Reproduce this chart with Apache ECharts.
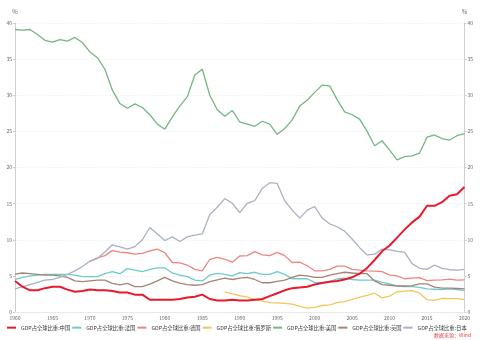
<!DOCTYPE html>
<html>
<head>
<meta charset="utf-8">
<script src="https://cdn.jsdelivr.net/npm/echarts@6/dist/echarts.min.js"></script>
<style>
  html, body { margin: 0; padding: 0; background: #fff; }
  #chart { width: 480px; height: 340px; }
</style>
</head>
<body>
<div id="chart"></div>
<script>
// Years on the category axis
const years = [];
for (let y = 1960; y <= 2020; y++) years.push(String(y));

const seriesNames = [
  'GDP占全球比重:中国', 'GDP占全球比重:法国', 'GDP占全球比重:德国',
  'GDP占全球比重:俄罗斯', 'GDP占全球比重:美国', 'GDP占全球比重:英国',
  'GDP占全球比重:日本'
];

// Share of world GDP, % (1960–2020)
const china = [4.3, 3.5, 3.0, 3.0, 3.3, 3.5, 3.5, 3.1, 2.8, 2.9,
  3.1, 3.0, 3.0, 2.9, 2.7, 2.7, 2.4, 2.4, 1.7, 1.7,
  1.7, 1.7, 1.8, 2.0, 2.1, 2.4, 1.8, 1.6, 1.6, 1.7,
  1.6, 1.6, 1.7, 1.8, 2.2, 2.6, 3.0, 3.3, 3.4, 3.5,
  3.8, 4.0, 4.2, 4.3, 4.5, 4.8, 5.3, 6.1, 7.2, 8.4,
  9.2, 10.3, 11.4, 12.4, 13.2, 14.7, 14.7, 15.2, 16.1, 16.3,
  17.3];

const france = [4.5, 4.8, 5.0, 5.1, 5.2, 5.2, 5.2, 5.2, 5.1, 4.9,
  4.9, 4.9, 5.3, 5.6, 5.3, 6.0, 5.8, 5.6, 5.9, 6.1,
  6.1, 5.4, 5.1, 4.9, 4.4, 4.3, 5.1, 5.35, 5.2, 5.0,
  5.45, 5.3, 5.5, 5.2, 5.2, 5.6, 5.2, 4.6, 4.6, 4.6,
  4.1, 4.05, 4.2, 4.6, 4.7, 4.5, 4.4, 4.4, 4.4, 4.1,
  3.9, 3.6, 3.5, 3.5, 3.4, 3.2, 3.15, 3.1, 3.2, 3.1,
  3.0];

const germany = [null, null, null, null, null, null, null, null, null, null,
  7.0, 7.5, 7.8, 8.5, 8.3, 8.2, 8.0, 8.1, 8.45, 8.7,
  8.2, 6.85, 6.8, 6.5, 5.9, 5.7, 7.3, 7.55, 7.3, 6.9,
  7.75, 7.8, 8.35, 7.9, 7.8, 8.25, 7.8, 6.85, 6.9, 6.4,
  5.7, 5.7, 5.9, 6.35, 6.35, 5.9, 5.8, 5.7, 5.65, 5.6,
  5.1, 5.0, 4.6, 4.7, 4.75, 4.35, 4.4, 4.45, 4.55, 4.4,
  4.45];

const russia = [null, null, null, null, null, null, null, null, null, null,
  null, null, null, null, null, null, null, null, null, null,
  null, null, null, null, null, null, null, null, 2.8, 2.5,
  2.25, 2.1, 1.7, 1.55, 1.3, 1.25, 1.2, 1.1, 0.8, 0.55,
  0.65, 0.9, 1.0, 1.3, 1.45, 1.75, 2.05, 2.3, 2.6, 1.95,
  2.2, 2.8, 2.9, 2.95, 2.6, 1.7, 1.6, 1.9, 1.85, 1.85,
  1.7];

const usa = [39.1, 39.0, 39.1, 38.4, 37.6, 37.35, 37.7, 37.5, 38.0, 37.3,
  36.0, 35.2, 33.6, 30.7, 28.85, 28.2, 28.8, 28.3, 27.3, 26.0,
  25.3, 27.0, 28.5, 29.8, 32.8, 33.6, 30.0, 28.0, 27.1, 27.9,
  26.3, 26.0, 25.7, 26.4, 26.0, 24.6, 25.4, 26.6, 28.5, 29.3,
  30.4, 31.4, 31.3, 29.4, 27.7, 27.3, 26.7, 25.0, 23.0, 23.7,
  22.4, 21.05, 21.5, 21.6, 22.0, 24.2, 24.5, 24.0, 23.8, 24.4,
  24.7];

const uk = [5.25, 5.4, 5.3, 5.2, 5.1, 5.1, 5.0, 4.8, 4.3, 4.2,
  4.3, 4.4, 4.4, 3.95, 3.75, 3.95, 3.5, 3.5, 3.85, 4.3,
  4.8, 4.3, 4.0, 3.8, 3.7, 3.8, 4.2, 4.45, 4.7, 4.5,
  4.7, 4.8, 4.5, 4.05, 4.05, 4.25, 4.4, 4.8, 5.1, 5.0,
  4.8, 4.8, 5.1, 5.3, 5.5, 5.4, 5.3, 5.3, 4.3, 3.8,
  3.7, 3.6, 3.6, 3.65, 3.9, 3.9, 3.45, 3.3, 3.3, 3.25,
  3.2];

const japan = [3.2, 3.5, 3.8, 4.1, 4.4, 4.5, 4.8, 5.2, 5.7, 6.3,
  7.05, 7.4, 8.3, 9.3, 9.0, 8.7, 9.05, 10.0, 11.7, 10.8,
  9.9, 10.4, 9.75, 10.4, 10.65, 10.8, 13.5, 14.5, 15.7, 15.05,
  13.75, 15.05, 15.4, 17.1, 17.9, 17.8, 15.4, 14.1, 13.0, 14.1,
  14.6, 13.0, 12.2, 11.8, 11.2, 10.1, 8.9, 7.9, 8.0, 8.7,
  8.6, 8.4, 8.3, 6.7, 6.05, 5.9, 6.5, 6.05, 5.85, 5.8,
  5.9];

const colors = ['#e8192c', '#6ccccc', '#f08482', '#f2c75e', '#74b783', '#a58573', '#a9b1c3'];
const values = [china, france, germany, russia, usa, uk, japan];

const yTicks = { min: 0, max: 40, interval: 5 };
const labelColor = '#666';
const fontFamily = '"Noto Sans CJK SC", "Noto Sans", sans-serif';

function valueAxis(position) {
  return {
    type: 'value',
    position: position,
    min: yTicks.min, max: yTicks.max, interval: yTicks.interval,
    name: '%',
    nameLocation: 'end',
    nameGap: 8,
    nameTextStyle: { color: labelColor, fontSize: 6, fontFamily: fontFamily,
      align: 'center' },
    axisLine: { show: true, lineStyle: { color: '#cfcfcf', width: 1 } },
    axisTick: { show: true, length: 2, lineStyle: { color: '#cfcfcf' } },
    axisLabel: { color: labelColor, fontSize: 5, margin: 3, fontFamily: fontFamily },
    splitLine: position === 'left'
      ? { show: true, lineStyle: { color: '#ececec', type: 'dashed', width: 0.6 } }
      : { show: false }
  };
}

const chart = echarts.init(document.getElementById('chart'), null, { renderer: 'canvas' });

chart.setOption({
  backgroundColor: '#ffffff',
  animation: false,
  color: colors,
  grid: { left: 15, right: 15.5, top: 23, bottom: 28, containLabel: false },
  xAxis: {
    type: 'category',
    data: years,
    boundaryGap: false,
    axisLine: { show: true, lineStyle: { color: '#e4e4e4', width: 0.8 } },
    axisTick: { show: false },
    axisLabel: { color: labelColor, fontSize: 5, margin: 4, interval: 4,
      fontFamily: fontFamily },
    splitLine: { show: false }
  },
  yAxis: [valueAxis('left'), valueAxis('right')],
  legend: {
    top: 325,
    left: 7,
    width: 470,
    padding: 0,
    icon: 'rect',
    itemWidth: 9,
    itemHeight: 2,
    itemGap: 2,
    textStyle: { color: '#333', fontSize: 5.3, fontFamily: fontFamily },
    data: seriesNames
  },
  graphic: [{
    type: 'text',
    right: 9,
    bottom: 2,
    style: { text: '数据来源：Wind', fill: '#e33b3b', fontSize: 5, fontFamily: fontFamily }
  }],
  series: seriesNames.map((name, i) => ({
    name: name,
    type: 'line',
    yAxisIndex: 0,
    data: values[i],
    showSymbol: false,
    symbol: 'none',
    connectNulls: false,
    z: i === 0 ? 10 : 2,
    lineStyle: { width: i === 0 ? 2 : 1.3, color: colors[i] },
    itemStyle: { color: colors[i] }
  }))
});
</script>
</body>
</html>
